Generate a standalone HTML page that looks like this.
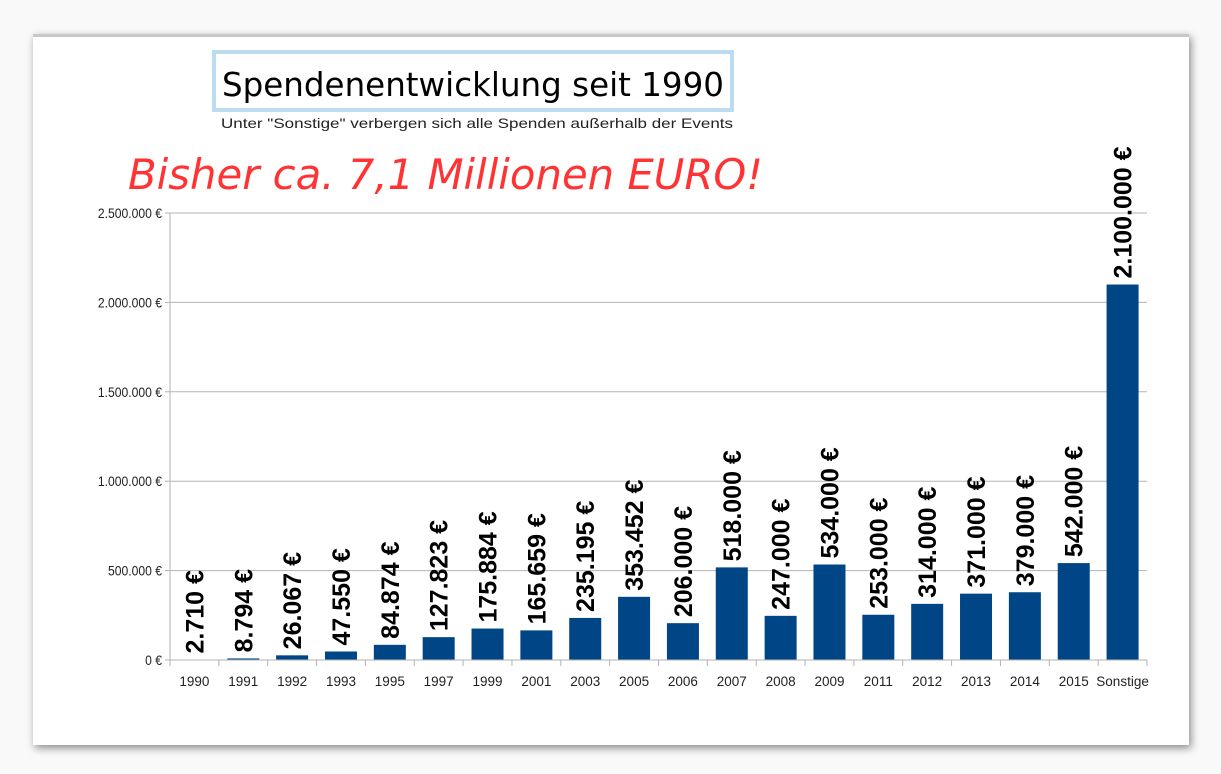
<!DOCTYPE html>
<html><head><meta charset="utf-8"><style>
body{margin:0;width:1221px;height:774px;background:#f9f9f9;overflow:hidden;font-family:"Liberation Sans",sans-serif}
#card{position:absolute;left:33px;top:34px;width:1156px;height:708px;background:#fff;box-shadow:2px 3px 8px rgba(0,0,0,.45);border-top:3px solid #c8c8c8}
</style></head><body>
<div id="card"></div>
<svg width="1221" height="774" style="position:absolute;left:0;top:0">
<rect x="214" y="52" width="518" height="58" fill="none" stroke="#bcdcf2" stroke-width="4"/>
<text x="473" y="96" text-anchor="middle" font-family="DejaVu Sans, sans-serif" font-size="33" fill="#000" textLength="502" lengthAdjust="spacingAndGlyphs">Spendenentwicklung seit 1990</text>
<text x="477" y="128" text-anchor="middle" font-size="14" fill="#222" textLength="512" lengthAdjust="spacingAndGlyphs">Unter "Sonstige" verbergen sich alle Spenden außerhalb der Events</text>
<text x="128" y="189" font-family="DejaVu Sans, sans-serif" font-style="italic" font-size="42" fill="#ff3333" textLength="635" lengthAdjust="spacingAndGlyphs">Bisher ca. 7,1 Millionen EURO!</text>
<g id="grid"></g><g id="bars"></g><g id="axes"></g>
</svg>
<script>
const categories=["1990","1991","1992","1993","1995","1997","1999","2001","2003","2005","2006","2007","2008","2009","2011","2012","2013","2014","2015","Sonstige"];
const values=[2710,8794,26067,47550,84874,127823,175884,165659,235195,353452,206000,518000,247000,534000,253000,314000,371000,379000,542000,2100000];
const valueLabels=["2.710 €","8.794 €","26.067 €","47.550 €","84.874 €","127.823 €","175.884 €","165.659 €","235.195 €","353.452 €","206.000 €","518.000 €","247.000 €","534.000 €","253.000 €","314.000 €","371.000 €","379.000 €","542.000 €","2.100.000 €"];
const yTicks=[0,500000,1000000,1500000,2000000,2500000];
const yTickLabels=["0 €","500.000 €","1.000.000 €","1.500.000 €","2.000.000 €","2.500.000 €"];
const NS="http://www.w3.org/2000/svg";
const X0=170,X1=1147,Y0=660,Y1=213,YMAX=2500000;
const step=(X1-X0)/categories.length;
const yS=v=>Y0-(v/YMAX)*(Y0-Y1);
const xS=i=>X0+i*step;
function mk(t,a,p){const e=document.createElementNS(NS,t);for(const k in a)e.setAttribute(k,a[k]);p.appendChild(e);return e;}
const grid=document.getElementById('grid'),bars=document.getElementById('bars'),axes=document.getElementById('axes');
yTicks.forEach((v,i)=>{
  const y=yS(v);
  if(v>0){const l=mk('line',{x1:X0,x2:X1,y1:y,y2:y,stroke:'#b3b3b3','stroke-width':1},grid);
  
  }
  const tk=mk('line',{x1:X0-5,x2:X0,y1:y,y2:y,stroke:'#b3b3b3'},axes);
  
  
  const t=mk('text',{x:X0-8,y:y+5,'text-anchor':'end','font-size':13.5,fill:'#222',transform:`translate(${(X0-8)*0.1},0) scale(0.9,1)`},axes);
  t.textContent=yTickLabels[i];
  
  
});
const ya=mk('line',{x1:X0,x2:X0,y1:Y1,y2:Y0,stroke:'#b3b3b3'},axes);


const xa=mk('line',{x1:X0,x2:X1,y1:Y0,y2:Y0,stroke:'#b3b3b3'},axes);


for(let i=0;i<=categories.length;i++){
  const tk=mk('line',{x1:xS(i),x2:xS(i),y1:Y0,y2:Y0+6,stroke:'#b3b3b3'},axes);
  
  
}
categories.forEach((c,i)=>{
  const cx=xS(i)+step/2,bw=32,top=yS(values[i]);
  const r=mk('rect',{x:cx-bw/2,y:top,width:bw,height:Y0-top,fill:'#004586'},bars);
  
  
  const t=mk('text',{x:0,y:0,'font-size':25,'font-weight':'bold',fill:'#000',transform:`translate(${cx+9},${top-6}) rotate(-90)`},bars);
  t.textContent=valueLabels[i];
  
  
  const xl=mk('text',{x:cx,y:Y0+26,'text-anchor':'middle','font-size':13.5,fill:'#222'},axes);
  xl.textContent=c;
  
  
});
</script>
</body></html>
